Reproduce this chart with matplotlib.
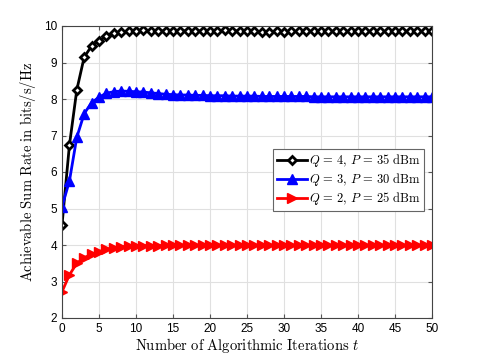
import numpy as np
import matplotlib
matplotlib.use('Agg')
import matplotlib.pyplot as plt

plt.rcParams['mathtext.fontset'] = 'cm'
plt.rcParams['font.family'] = ['Liberation Sans', 'DejaVu Sans']

## Data
t = np.arange(0, 51)

rate_q4 = [4.55, 6.73, 8.25, 9.15, 9.45, 9.60, 9.72, 9.80, 9.84, 9.85,
           9.86, 9.88, 9.87, 9.87, 9.86, 9.86, 9.86, 9.87, 9.87, 9.86,
           9.87, 9.86, 9.88, 9.87, 9.86, 9.85, 9.85, 9.84, 9.84, 9.85,
           9.84, 9.85, 9.85, 9.86, 9.85, 9.86, 9.85, 9.86, 9.86, 9.85,
           9.86, 9.85, 9.86, 9.86, 9.85, 9.85, 9.86, 9.85, 9.85, 9.85,
           9.85]
rate_q3 = [5.05, 5.75, 6.95, 7.60, 7.90, 8.05, 8.16, 8.20, 8.22, 8.21,
           8.20, 8.19, 8.17, 8.15, 8.13, 8.12, 8.11, 8.11, 8.10, 8.10,
           8.09, 8.09, 8.09, 8.08, 8.08, 8.08, 8.08, 8.07, 8.07, 8.07,
           8.07, 8.07, 8.07, 8.07, 8.06, 8.06, 8.06, 8.06, 8.06, 8.06,
           8.06, 8.06, 8.06, 8.06, 8.06, 8.06, 8.06, 8.06, 8.06, 8.06,
           8.06]
rate_q2 = [2.72, 3.18, 3.50, 3.65, 3.75, 3.82, 3.88, 3.92, 3.95, 3.96,
           3.97, 3.98, 3.98, 3.98, 3.99, 3.99, 3.99, 3.99, 3.99, 3.99,
           3.99, 3.99, 3.99, 3.99, 3.99, 3.99, 3.99, 3.99, 3.99, 3.99,
           3.99, 3.99, 3.99, 3.99, 3.99, 3.99, 3.99, 3.99, 3.99, 3.99,
           3.99, 3.99, 3.99, 3.99, 3.99, 3.99, 3.99, 3.99, 3.99, 3.99,
           3.99]

labels = [r'$Q\,=\,4,\,P\,=\,35\ \mathrm{dBm}$',
          r'$Q\,=\,3,\,P\,=\,30\ \mathrm{dBm}$',
          r'$Q\,=\,2,\,P\,=\,25\ \mathrm{dBm}$']

fig = plt.figure(figsize=(4.78, 3.58), dpi=100)
ax = fig.add_axes([62/478, 1-318/358, 370/478, 292/358])

ax.plot(t, rate_q4, '-D', color='k', lw=2, ms=4.5, mfc='white', mec='k', mew=2.0, label=labels[0])
ax.plot(t, rate_q3, '-^', color='b', lw=2, ms=6.5, mfc='b', mec='b', label=labels[1])
ax.plot(t, rate_q2, '->', color='r', lw=2, ms=6.5, mfc='r', mec='r', label=labels[2])

ax.set_xlim(0, 50)
ax.set_ylim(2, 10)
ax.set_xticks(np.arange(0, 51, 5))
ax.set_yticks(np.arange(2, 11, 1))
ax.grid(True, color='#e0e0e0', lw=0.8)
ax.set_axisbelow(True)
ax.tick_params(direction='in', top=True, right=True, labelsize=8.5, length=3, color='#555555')
for s in ax.spines.values():
    s.set_color('#444444')
    s.set_linewidth(0.8)

ax.set_xlabel(r'$\mathrm{Number\ of\ Algorithmic\ Iterations}\ t$', fontsize=10.5, labelpad=1)
ax.set_ylabel(r'$\mathrm{Achievable\ Sum\ Rate\ in\ bits/s/Hz}$', fontsize=10.5, labelpad=4)

leg = ax.legend(loc='upper right', bbox_to_anchor=(0.978, 0.58), fontsize=9,
                fancybox=False, edgecolor='#666666', framealpha=1,
                handlelength=2.4, handletextpad=0.15, borderpad=0.3,
                labelspacing=0.15, borderaxespad=0)
leg.get_frame().set_linewidth(0.8)

fig.savefig('out.png', dpi=100)
